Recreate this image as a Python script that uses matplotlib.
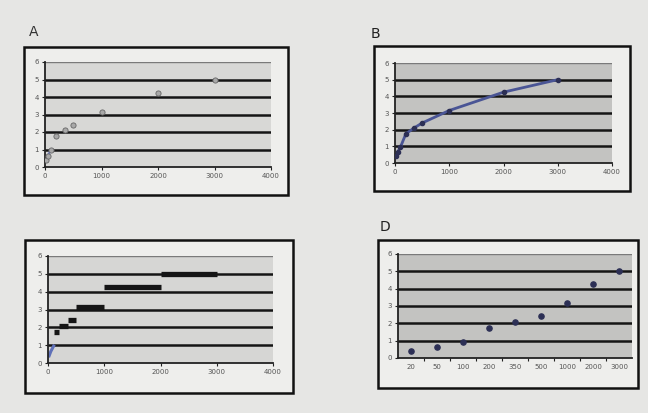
import matplotlib.pyplot as plt
from matplotlib.patches import Rectangle

# concentration vs response, same data in all four panels
conc = [20, 50, 100, 200, 350, 500, 1000, 2000, 3000]
resp = [0.4, 0.65, 0.95, 1.75, 2.1, 2.4, 3.15, 4.25, 5.0]
conc_labels = [str(c) for c in conc]
y_ticks = [0, 1, 2, 3, 4, 5, 6]
x_ticks = [0, 1000, 2000, 3000, 4000]

W, H = 648, 413
fig = plt.figure(figsize=(W / 100, H / 100), dpi=100)
fig.patch.set_facecolor('#e6e6e4')


def px_axes(l, t, r, b):
    # pixel box -> figure fraction axes
    return fig.add_axes([l / W, 1 - b / H, (r - l) / W, (b - t) / H])


def frame(l, t, r, b):
    fig.patches.append(Rectangle((l / W, 1 - b / H), (r - l) / W, (b - t) / H,
                                 transform=fig.transFigure, facecolor='#eeeeec',
                                 edgecolor='#111111', lw=1.8, zorder=-1))


def style(ax, bg):
    ax.set_facecolor(bg)
    ax.set_ylim(0, 6)
    ax.set_yticks(y_ticks)
    for y in y_ticks[1:-1]:
        ax.axhline(y, color='#151515', lw=1.8, zorder=1)
    ax.axhline(6, color='#7a7a7a', lw=1.0, zorder=1)
    for s in ['top', 'right']:
        ax.spines[s].set_visible(False)
    for s in ['left', 'bottom']:
        ax.spines[s].set_color('#222222')
        ax.spines[s].set_linewidth(1.3)
    ax.tick_params(labelsize=5, labelcolor='#555555', length=2.5, width=0.8,
                   color='#222222', pad=2)


# A: scatter
frame(24, 47, 288, 195)
ax = px_axes(45, 62, 271, 167)
style(ax, '#d8d8d6')
ax.set_xlim(0, 4000)
ax.set_xticks(x_ticks)
ax.plot(conc[:3], resp[:3], color='#6f7fc8', lw=1.6, zorder=2)
ax.scatter(conc, resp, s=14, color='#a8a8a8', edgecolor='#666666', lw=0.6, zorder=3)
fig.text(29 / W, 1 - 32 / H, 'A', fontsize=10, color='#333333', va='center')

# B: line through points
frame(374, 46, 630, 191)
ax = px_axes(395, 63, 612, 163)
style(ax, '#c3c3c1')
ax.set_xlim(0, 4000)
ax.set_xticks(x_ticks)
ax.plot(conc, resp, color='#4a5595', lw=2.0, zorder=2)
ax.scatter(conc, resp, s=9, color='#2c2f55', zorder=3)
fig.text(371 / W, 1 - 34 / H, 'B', fontsize=10, color='#222222', va='center')

# C: steps between concentrations
frame(25, 240, 293, 393)
ax = px_axes(48, 256, 273, 363)
style(ax, '#d6d6d4')
ax.set_xlim(0, 4000)
ax.set_xticks(x_ticks)
ax.plot(conc[:3], resp[:3], color='#5f70b8', lw=2.2, zorder=2)
ax.hlines(resp[3:], conc[2:-1], conc[3:], color='#151515', lw=3.8, zorder=3)

# D: categorical axis
frame(378, 240, 638, 388)
ax = px_axes(398, 254, 632, 358)
style(ax, '#c3c3c1')
pos = list(range(len(conc)))
ax.set_xlim(-0.5, len(conc) - 0.5)
ax.set_xticks(pos)
ax.set_xticklabels(conc_labels)
ax.set_xticks([p + 0.5 for p in pos[:-1]], minor=True)
ax.tick_params(axis='x', which='major', length=0, pad=4)
ax.tick_params(axis='x', which='minor', length=2.5, width=0.8, color='#222222')
ax.scatter(pos, resp, s=14, color='#2c2f55', zorder=3)
fig.text(380 / W, 1 - 227 / H, 'D', fontsize=10, color='#222222', va='center')

fig.savefig('out.png', dpi=100, facecolor=fig.get_facecolor())
